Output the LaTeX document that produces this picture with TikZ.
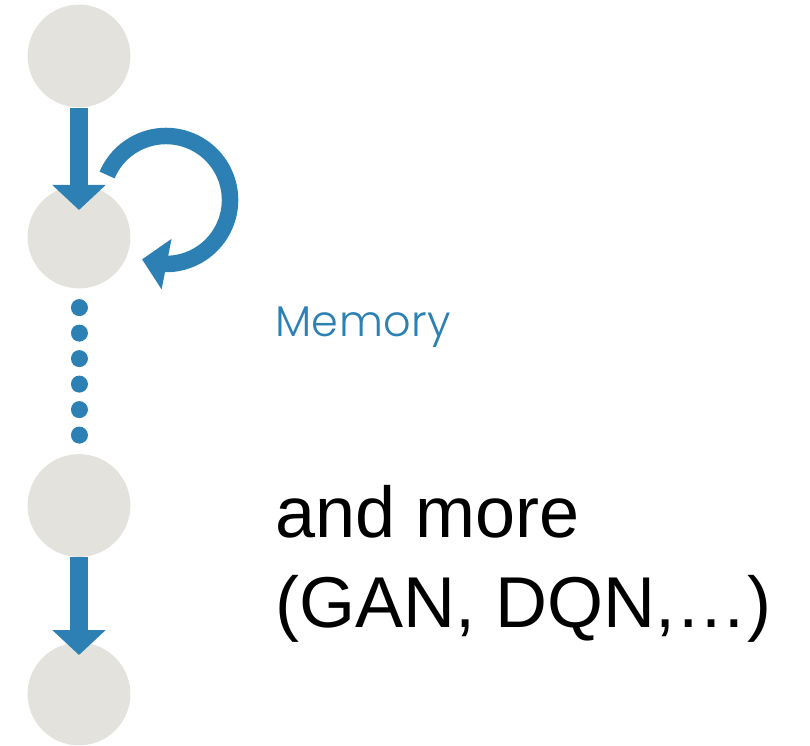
\documentclass[tikz,border=0pt]{standalone}
\usepackage{fontspec}
\setmainfont{Liberation Sans}
\IfFontExistsTF{Poppins Light}
  {\newfontfamily\memfont[LetterSpace=1]{Poppins Light}}
  {\newfontfamily\memfont[LetterSpace=1]{Poppins}}
\usetikzlibrary{arrows.meta,bending}

\definecolor{cellgray}{HTML}{E3E2DD}
\definecolor{flowblue}{HTML}{2C80B3}

\tikzset{
  cell/.style={circle, fill=cellgray, draw=none, minimum size=102.8pt, inner sep=0pt},
  flow/.style={draw=flowblue, line width=18pt,
    -{Triangle[length=25pt,width=52pt]}, flowblue},
  loopflow/.style={draw=flowblue, line width=16.5pt,
    -{Triangle[length=25pt,width=50pt,flex]}, flowblue},
  dotline/.style={draw=flowblue, line width=17pt, line cap=round,
    dash pattern=on 0.01pt off 25.49pt},
  memlabel/.style={text=flowblue, font=\memfont\fontsize{43}{50}\selectfont,
    inner sep=0pt},
  biglabel/.style={text=black, font=\fontsize{72}{88}\selectfont, inner sep=0pt}
}

\begin{document}
\begin{tikzpicture}[x=1pt,y=1pt]
\useasboundingbox (0,0) rectangle (810,745);

% the four cells of the unrolled chain
\node[cell] (n1) at (79,689) {};
\node[cell] (n2) at (79,508) {};
\node[cell] (n3) at (79,239.5) {};
\node[cell] (n4) at (79,51) {};

% forward connections
\draw[flow, shorten >=27pt] (n1.south) -- (n2.center);
\draw[flow, shorten >=39pt] (n3.south) -- (n4.center);

% elided steps between the second and third cell
\draw[dotline, shorten <=19pt, shorten >=18.5pt] (n2.south) -- (n3.north);

% recurrent self-loop on the second cell
\coordinate (loopstart) at (107.1,570);
\draw[loopflow] (loopstart) arc[start angle=157, end angle=-112, radius=64];

% labels
\node[memlabel, anchor=base west] (mem) at (275,408) {Memory};
\node[biglabel, anchor=base west] (more1) at (275,208) {and more};
\node[biglabel, anchor=base west] (more2) at (275,118) {(GAN, DQN,…)};
\end{tikzpicture}
\end{document}
